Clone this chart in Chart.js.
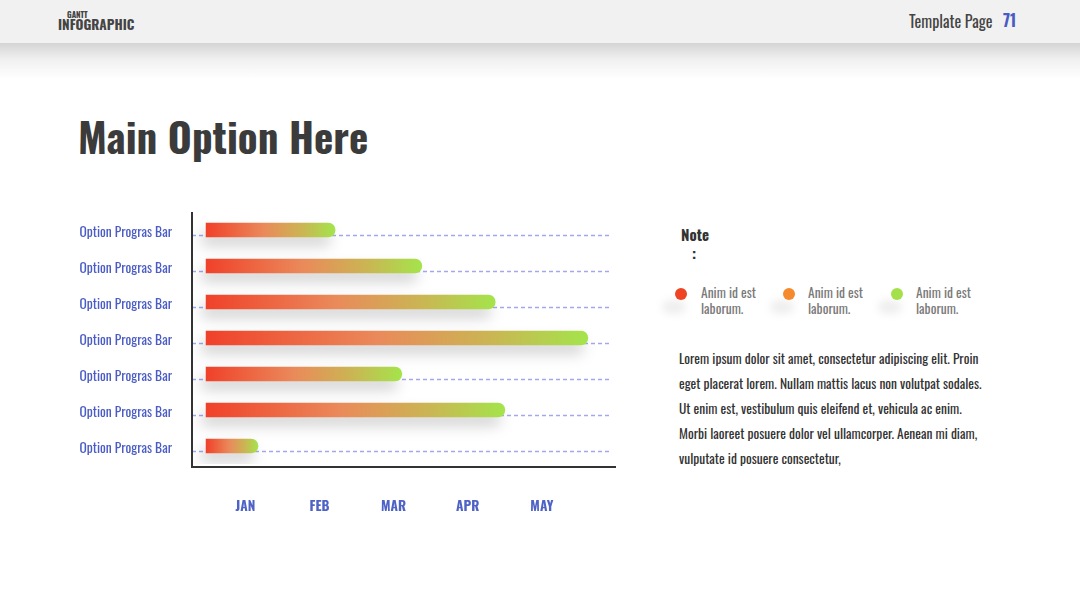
<!DOCTYPE html>
<html>
<head>
<meta charset="utf-8">
<script src="https://cdn.jsdelivr.net/npm/chart.js@4"></script>
<style>
  html, body { margin:0; padding:0; width:1080px; height:608px; background:#ffffff; overflow:hidden; }
  body { position:relative; font-family:"Oswald","Roboto Condensed",sans-serif; }
  .header { position:absolute; left:0; top:0; width:1080px; height:43px; background:#f1f1f1; }
  .hshadow { position:absolute; left:0; top:43px; width:1080px; height:36px; background:linear-gradient(to bottom, rgba(0,0,0,0.17), rgba(0,0,0,0.06) 45%, rgba(0,0,0,0)); }
  .t { position:absolute; white-space:nowrap; line-height:1; }
  #gantt { left:67px; top:10px; font-size:8px; font-weight:bold; color:#444; }
  #infog { left:58px; top:18px; font-size:13.5px; font-weight:bold; color:#444; }
  #tpl { left:909px; top:13px; font-size:16px; color:#444; }
  #pnum { left:1003px; top:12px; font-size:16px; font-weight:bold; color:#4a5cc4; }
  #title { left:78px; top:115px; font-size:41px; font-weight:bold; color:#3b3b3b; }
  #note { left:681px; top:227px; font-size:15px; font-weight:bold; color:#333; }
  #colon { left:692px; top:246px; font-size:15px; font-weight:bold; color:#333; }
  .dot { position:absolute; width:12px; height:12px; border-radius:50%; }
  .lg { position:absolute; font-size:13.5px; color:#7a7a7a; line-height:16px; white-space:nowrap; }
  .blob { position:absolute; width:24px; height:14px; border-radius:50%; background:rgba(0,0,0,0.07); filter:blur(4px); }
  #para { position:absolute; left:679px; top:346px; font-size:13.5px; line-height:25px; color:#333; white-space:nowrap; }
  #wrap { position:absolute; left:40px; top:200px; width:600px; height:320px; }
</style>
</head>
<body>
<div class="header"></div>
<div class="hshadow"></div>
<div class="t" id="gantt">GANTT</div>
<div class="t" id="infog">INFOGRAPHIC</div>
<div class="t" id="tpl">Template Page</div>
<div class="t" id="pnum">71</div>
<div class="t" id="title">Main Option Here</div>
<div class="t" id="note">Note</div>
<div class="t" id="colon">:</div>

<div class="blob" style="left:662px;top:300px"></div>
<div class="blob" style="left:770px;top:300px"></div>
<div class="blob" style="left:878px;top:300px"></div>
<div class="dot" style="left:675px;top:288px;background:#ee4423"></div>
<div class="dot" style="left:783px;top:288px;background:#f58a2c"></div>
<div class="dot" style="left:891px;top:288px;background:#a4e04c"></div>
<div class="lg" style="left:701px;top:284px">Anim id est<br>laborum.</div>
<div class="lg" style="left:808px;top:284px">Anim id est<br>laborum.</div>
<div class="lg" style="left:916px;top:284px">Anim id est<br>laborum.</div>

<div id="para">Lorem ipsum dolor sit amet, consectetur adipiscing elit. Proin<br>eget placerat lorem. Nullam mattis lacus non volutpat sodales.<br>Ut enim est, vestibulum quis eleifend et, vehicula ac enim.<br>Morbi laoreet posuere dolor vel ullamcorper. Aenean mi diam,<br>vulputate id posuere consectetur,</div>

<div id="wrap"><canvas id="c"></canvas></div>

<script>
// ---- data ----
const categories = ["Option Progras Bar","Option Progras Bar","Option Progras Bar","Option Progras Bar","Option Progras Bar","Option Progras Bar","Option Progras Bar"];
const progressEnd = [2.21, 3.38, 4.37, 5.62, 3.11, 4.50, 1.17];   // in months (JAN = 1)
const barStart = 0.47;
const monthLabels = ["JAN","FEB","MAR","APR","MAY"];
const monthValues = [1, 2, 3, 4, 5];
const axisMin = 0.28, axisMax = 6.0;

const FONT = '"Oswald","Roboto Condensed",sans-serif';

const dashedRows = {
  id: 'dashedRows',
  beforeDatasetsDraw(chart) {
    const {ctx, chartArea, scales} = chart;
    ctx.save();
    ctx.strokeStyle = '#a2a8ea';
    ctx.lineWidth = 1.4;
    ctx.setLineDash([4, 3]);
    categories.forEach((_, i) => {
      const y = Math.round(scales.y.getPixelForValue(i) + 5) + 0.5;
      ctx.beginPath();
      ctx.moveTo(chartArea.left, y);
      ctx.lineTo(chartArea.right - 7, y);
      ctx.stroke();
    });
    ctx.restore();
  }
};
const axisLines = {
  id: 'axisLines',
  afterDatasetsDraw(chart) {
    const {ctx, chartArea} = chart;
    ctx.save();
    ctx.strokeStyle = '#333333';
    ctx.lineWidth = 2;
    ctx.beginPath();
    ctx.moveTo(chartArea.left, chartArea.top);
    ctx.lineTo(chartArea.left, chartArea.bottom + 3);
    ctx.lineTo(chartArea.right, chartArea.bottom + 3);
    ctx.stroke();
    ctx.restore();
  }
};
const barShadow = {
  id: 'barShadow',
  beforeDatasetDraw(chart) {
    const c = chart.ctx;
    c.save();
    c.shadowColor = 'rgba(0,0,0,0.17)';
    c.shadowBlur = 14;
    c.shadowOffsetY = 9;
    c.shadowOffsetX = -4;
  },
  afterDatasetDraw(chart) { chart.ctx.restore(); }
};

new Chart(document.getElementById('c'), {
  type: 'bar',
  data: {
    labels: categories,
    datasets: [{
      data: progressEnd,
      base: barStart,
      barThickness: 14,
      borderRadius: 7,
      borderSkipped: 'start',
      backgroundColor: (ctx) => {
        const chart = ctx.chart;
        const xs = chart.scales && chart.scales.x;
        if (!chart.chartArea || !xs || ctx.type !== 'data') return '#f0432a';
        const x0 = xs.getPixelForValue(barStart);
        const x1 = xs.getPixelForValue(ctx.raw);
        const g = chart.ctx.createLinearGradient(x0, 0, x1, 0);
        g.addColorStop(0, '#f0412a');
        g.addColorStop(0.45, '#ea8a5a');
        g.addColorStop(0.75, '#cab653');
        g.addColorStop(1, '#a4e44b');
        return g;
      }
    }]
  },
  options: {
    indexAxis: 'y',
    responsive: true,
    maintainAspectRatio: false,
    animation: false,
    layout: { padding: { top: 12, right: 24, left: 0, bottom: 0 } },
    plugins: { legend: { display: false }, tooltip: { enabled: false } },
    scales: {
      x: {
        type: 'linear',
        min: axisMin, max: axisMax,
        grid: { display: false, drawTicks: false },
        border: { display: false },
        afterBuildTicks: (s) => { s.ticks = monthValues.map(v => ({ value: v })); },
        afterFit: (s) => { s.height = 56; s.paddingLeft = 0; s.paddingRight = 0; },
        ticks: {
          padding: 35,
          color: '#4f63c6',
          font: { family: FONT, size: 13.5, weight: 'bold' },
          callback: (v) => monthLabels[monthValues.indexOf(v)]
        }
      },
      y: {
        grid: { display: false, drawTicks: false },
        border: { display: false },
        afterFit: (s) => { s.width = 152; s.paddingTop = 0; s.paddingBottom = 0; },
        ticks: {
          padding: 20,
          labelOffset: 3,
          color: '#4b5dc4',
          font: { family: FONT, size: 13.5 }
        }
      }
    }
  },
  plugins: [dashedRows, barShadow, axisLines]
});
</script>
</body>
</html>
